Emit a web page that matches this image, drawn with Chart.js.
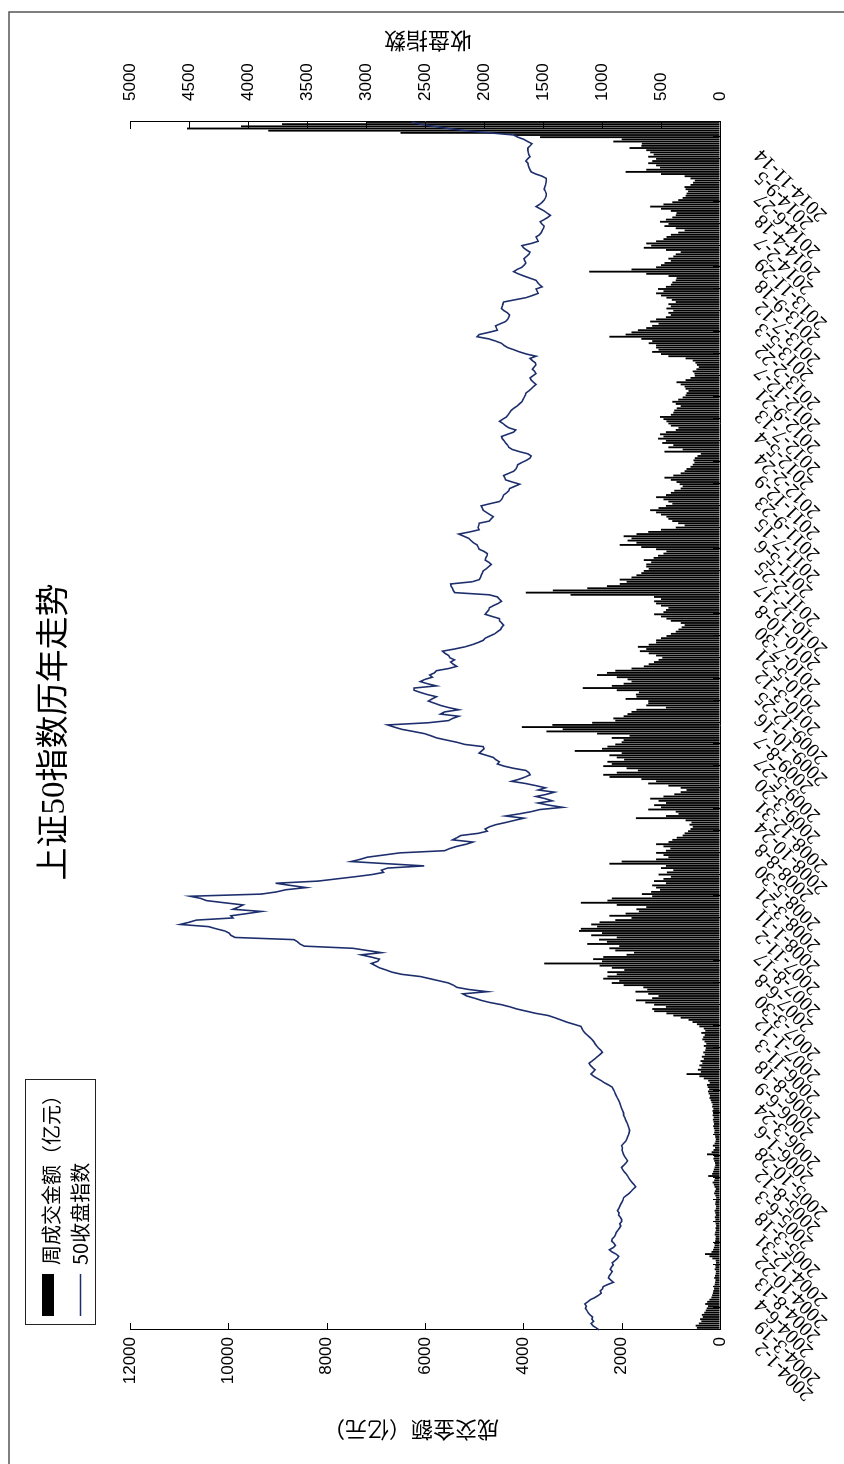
<!DOCTYPE html>
<html>
<head>
<meta charset="utf-8">
<script src="https://cdn.jsdelivr.net/npm/chart.js@4/dist/chart.umd.min.js"></script>
<style>
  html, body { margin: 0; padding: 0; background: #fff; overflow: hidden; }
  /* The figure is laid out landscape (1464x844) and turned a quarter turn
     counter-clockwise to fill the portrait page, as in the scanned original. */
  #stage {
    position: absolute; left: 0; top: 0; width: 1464px; height: 844px;
    transform-origin: 0 0; transform: translate(0, 1464px) rotate(-90deg);
  }
</style>
</head>
<body>
<div id="stage"><canvas id="chart" width="1464" height="844"></canvas></div>
<script>
(function () {
  "use strict";

  // Weekly close of the SSE 50 index, one array per calendar year.
  var close2004 = [1024, 1050, 1078, 1093, 1070, 1085, 1080, 1102, 1118, 1128,
    1140, 1132, 1145, 1120, 1098, 1059, 1030, 1007, 1015, 995,
    990, 950, 903, 925, 945, 938, 925, 914, 930, 920,
    905, 914, 890, 870, 859, 880, 915, 938, 905, 886,
    900, 918, 914, 895, 885, 879, 865, 852, 841, 850, 834];
  var close2005 = [834, 845, 860, 855, 869, 858, 850, 841, 830, 822,
    817, 795, 770, 752, 735, 714, 728, 745, 760, 772,
    783, 795, 812, 825, 834, 815, 798, 783, 795, 808,
    818, 824, 830, 826, 834, 818, 800, 790, 783, 775,
    770, 766, 772, 778, 783, 792, 800, 808, 817];
  var close2006 = [817, 825, 832, 840, 846, 852, 860, 870, 879, 888,
    895, 905, 914, 945, 980, 1007, 1040, 1070, 1093, 1075,
    1059, 1080, 1098, 1110, 1085, 1062, 1041, 1018, 997, 1010,
    1030, 1045, 1059, 1070, 1085, 1105, 1125, 1145, 1160, 1170,
    1179, 1240, 1300, 1350, 1400, 1455, 1560, 1640, 1720];
  var close2007 = [1780, 1852, 1950, 2024, 2080, 2145, 2180, 1972, 2128, 2231,
    2260, 2300, 2380, 2460, 2541, 2697, 2780, 2830, 2886, 2920,
    2955, 2900, 2886, 2960, 3041, 2869, 2990, 3110, 3524, 3560,
    3580, 3610, 4110, 4145, 4160, 4197, 4270, 4334, 4576, 4500,
    4438, 4128, 4145, 4010, 3886, 4128, 4080, 4041, 4200, 4352];
  var close2008 = [4400, 4490, 3886, 3760, 3679, 3507, 3640, 3766, 3403, 3250,
    3093, 2950, 2852, 2870, 2817, 2507, 2820, 3128, 3050, 2990,
    2850, 2714, 2334, 2290, 2231, 2150, 2093, 2266, 2230, 2197,
    2050, 1972, 1990, 1955, 1900, 1817, 1740, 1662, 1817, 1700,
    1600, 1524, 1334, 1450, 1541, 1421, 1480, 1559, 1470, 1403, 1541];
  var close2009 = [1480, 1560, 1650, 1766, 1700, 1650, 1610, 1620, 1645, 1750,
    1830, 1886, 1870, 1900, 1921, 1980, 2041, 2020, 2000, 2007,
    2162, 2230, 2317, 2400, 2450, 2507, 2600, 2700, 2760, 2817,
    2472, 2300, 2266, 2214, 2369, 2334, 2214, 2300, 2369, 2420,
    2472, 2440, 2403, 2480, 2540, 2593, 2593, 2403, 2480, 2541, 2500];
  var close2010 = [2438, 2460, 2420, 2403, 2300, 2231, 2260, 2283, 2250, 2290,
    2300, 2330, 2352, 2250, 2162, 2100, 2050, 2007, 1990, 1950,
    1910, 1886, 1860, 1850, 1834, 1850, 1869, 1869, 1930, 1990,
    1975, 1960, 1955, 1920, 1880, 1852, 1870, 1886, 1955, 2248,
    2260, 2266, 2280, 2283, 2100, 2041, 2030, 2024, 2015, 2007, 1980, 1960];
  var close2011 = [1938, 1960, 1990, 1985, 1975, 1972, 2000, 2041, 2050, 2059,
    2090, 2110, 2128, 2170, 2214, 2120, 2041, 2050, 2045, 2041,
    1955, 1940, 1921, 1950, 1980, 2007, 2015, 2024, 1950, 1869,
    1850, 1840, 1834, 1810, 1790, 1783, 1740, 1697, 1760, 1817,
    1825, 1834, 1790, 1748, 1730, 1720, 1714, 1680, 1640, 1610, 1600];
  var close2012 = [1628, 1700, 1760, 1790, 1800, 1817, 1830, 1845, 1852, 1800,
    1750, 1731, 1790, 1817, 1840, 1869, 1840, 1810, 1795, 1783,
    1770, 1748, 1720, 1700, 1679, 1670, 1660, 1650, 1645, 1620,
    1600, 1580, 1559, 1580, 1600, 1610, 1585, 1559, 1570, 1590,
    1575, 1560, 1565, 1590, 1610, 1559, 1640, 1700, 1748, 1800];
  var close2013 = [1830, 1852, 1903, 1960, 2059, 2041, 1960, 1886, 1895, 1903,
    1860, 1817, 1800, 1790, 1783, 1800, 1830, 1852, 1845, 1840,
    1834, 1740, 1645, 1590, 1541, 1550, 1559, 1507, 1530, 1545,
    1559, 1610, 1662, 1710, 1748, 1720, 1679, 1660, 1645, 1655,
    1662, 1640, 1620, 1610, 1640, 1665, 1679, 1600, 1541, 1550, 1559];
  var close2014 = [1530, 1515, 1507, 1495, 1490, 1510, 1524, 1490, 1460, 1438,
    1465, 1490, 1525, 1559, 1530, 1507, 1490, 1480, 1472, 1472,
    1480, 1490, 1485, 1478, 1475, 1472, 1472, 1507, 1560, 1600,
    1610, 1618, 1625, 1628, 1645, 1630, 1610, 1620, 1625, 1628,
    1628, 1610, 1593, 1630, 1662, 1714, 1748, 1950, 2162, 2300,
    2420, 2540, 2610];

  // Weekly turnover, 亿元, same weeks as above.
  var turnover2004 = [510, 470, 495, 430, 380, 405, 350, 370, 320, 290,
    270, 245, 300, 260, 215, 175, 160, 145, 135, 120,
    128, 108, 100, 92, 118, 102, 88, 84, 108, 92,
    98, 80, 88, 155, 215, 305, 175, 140, 125, 108,
    118, 98, 92, 88, 108, 98, 84, 92, 78, 88, 98];
  var turnover2005 = [92, 105, 88, 96, 110, 85, 80, 98, 90, 84,
    78, 95, 120, 105, 88, 110, 125, 150, 118, 104,
    240, 160, 140, 125, 110, 96, 102, 118, 135, 120,
    265, 170, 130, 102, 145, 110, 92, 86, 98, 105,
    118, 110, 125, 138, 120, 132, 145, 128, 150];
  var turnover2006 = [140, 155, 135, 160, 150, 175, 190, 215, 205, 230,
    245, 220, 250, 265, 210, 240, 330, 420, 680, 390,
    450, 380, 420, 360, 395, 330, 370, 310, 340, 300,
    290, 330, 280, 315, 360, 340, 310, 380, 300, 330,
    420, 470, 560, 640, 800, 950, 1090, 1340, 1380];
  var turnover2007 = [1100, 1340, 1520, 1710, 1380, 1250, 1460, 1720, 1480, 1560,
    1960, 2200, 2050, 2375, 2290, 2100, 2290, 1950, 2200, 2450,
    3575, 2400, 2580, 2375, 1900, 1750, 2130, 2250, 2050, 2700,
    2300, 2460, 2100, 2620, 2400, 2870, 2830, 2500, 2620, 2450,
    2130, 1800, 2250, 1920, 1650, 1700, 1500, 2100, 2830, 2290];
  var turnover2008 = [2200, 1380, 1590, 1400, 1220, 1300, 1380, 1100, 1340, 1150,
    1000, 1250, 1080, 950, 1200, 1100, 2250, 2000, 1300, 1050,
    1150, 1300, 1100, 1010, 1150, 1300, 1050, 970, 880, 760,
    720, 650, 600, 555, 620, 580, 700, 1710, 1100, 845,
    900, 1460, 1200, 1340, 1100, 1250, 1420, 1150, 930, 800, 680];
  var turnover2009 = [800, 1050, 1460, 1300, 1600, 2250, 2375, 2100, 1670, 1900,
    2375, 2200, 2290, 1950, 2100, 2250, 2000, 2955, 2400, 2290,
    2130, 2000, 1960, 2200, 1840, 2500, 3530, 3200, 4030, 3410,
    2600, 2130, 2170, 1960, 1880, 1800, 1700, 1100, 1500, 1460,
    1460, 1920, 1700, 1710, 1650, 2100, 2790, 2200, 1960, 1800, 1880];
  var turnover2010 = [2100, 2500, 2300, 2130, 1800, 1550, 1450, 1340, 1250, 1175,
    1300, 1450, 1630, 1500, 1670, 1450, 1300, 1300, 1200, 1090,
    1000, 900, 845, 780, 720, 800, 1000, 1090, 1200, 1340,
    1150, 1100, 1050, 1200, 1300, 1340, 1200, 1340, 3040, 3950,
    3400, 2700, 2300, 2040, 1900, 2040, 1800, 1700, 1600, 1550, 1450, 1500];
  var turnover2011 = [1500, 1400, 1550, 1350, 1260, 1150, 1090, 1300, 1600, 2040,
    1700, 1880, 1800, 1960, 1700, 1460, 1200, 900, 720, 850,
    970, 1050, 1090, 1200, 1300, 1420, 1250, 1100, 970, 1050,
    1150, 1300, 1100, 1000, 930, 800, 760, 820, 885, 1000,
    1130, 950, 800, 720, 680, 600, 555, 520, 540, 513, 460];
  var turnover2012 = [390, 1130, 760, 1050, 950, 1175, 1100, 1260, 1150, 1220,
    1100, 900, 845, 1000, 1050, 1090, 1150, 1220, 1000, 950,
    930, 880, 800, 900, 970, 850, 760, 700, 680, 640,
    700, 720, 800, 885, 700, 600, 513, 520, 555, 480,
    430, 470, 500, 555, 700, 1050, 1200, 1380, 1250, 1300];
  var turnover2013 = [1300, 1450, 1380, 1600, 2250, 1920, 1800, 1670, 1500, 1380,
    1250, 1420, 1300, 1100, 1000, 1050, 950, 1090, 1000, 1050,
    900, 980, 1090, 1200, 1300, 1150, 1260, 1100, 1000, 970,
    900, 885, 1050, 1500, 2660, 1800, 1300, 1200, 1130, 1000,
    1050, 950, 900, 800, 1100, 1550, 1400, 1500, 1300, 1150, 1090];
  var turnover2014 = [1000, 850, 720, 900, 1130, 1050, 1220, 1100, 970, 900,
    885, 1000, 1200, 1420, 1150, 970, 850, 760, 700, 680,
    650, 700, 720, 600, 550, 513, 600, 720, 1200, 1920,
    1500, 1220, 1300, 1460, 1380, 1300, 1460, 1350, 1420, 1500,
    1840, 1600, 1590, 2170, 2000, 3660, 4200, 6500, 9190, 10840,
    9740, 8910, 7200];

  // Every tenth week carries a date label.
  var tickEvery = 10;
  var tickLabels = ["2004-1-2", "2004-3-19", "2004-6-4", "2004-8-13", "2004-10-22",
    "2004-12-31", "2005-3-18", "2005-6-3", "2005-8-12", "2005-10-28",
    "2006-1-6", "2006-3-24", "2006-6-9", "2006-8-18", "2006-11-3",
    "2007-1-12", "2007-3-30", "2007-6-8", "2007-8-17", "2007-11-2",
    "2008-1-11", "2008-3-21", "2008-5-30", "2008-8-8", "2008-10-24",
    "2008-12-31", "2009-3-20", "2009-5-27", "2009-8-7", "2009-10-16",
    "2009-12-25", "2010-3-12", "2010-5-21", "2010-7-30", "2010-10-8",
    "2010-12-17", "2011-2-25", "2011-5-6", "2011-7-15", "2011-9-23",
    "2011-12-9", "2012-2-24", "2012-5-4", "2012-7-13", "2012-9-21",
    "2012-12-7", "2013-2-22", "2013-5-3", "2013-7-12", "2013-9-18",
    "2013-11-29", "2014-2-7", "2014-4-18", "2014-6-27", "2014-9-5",
    "2014-11-14"];

  var closes = [].concat(close2004, close2005, close2006, close2007, close2008,
    close2009, close2010, close2011, close2012, close2013, close2014);
  var turnover = [].concat(turnover2004, turnover2005, turnover2006, turnover2007,
    turnover2008, turnover2009, turnover2010, turnover2011, turnover2012,
    turnover2013, turnover2014);
  var weeks = closes.map(function (_v, i) { return i; });

  var INK = "#000";
  var LINE = "#1d2e6c";
  var SANS = "'Liberation Sans', Arial, sans-serif";
  var SERIF = "'Liberation Serif', 'Times New Roman', serif";
  var CJK = "'Noto Sans CJK SC', sans-serif";

  // Plot box in canvas pixels; the axes are sized so Chart.js lands on it.
  var box = { left: 134, right: 1342, top: 130, bottom: 720 };
  var TICK_IN = 7;

  // MATLAB-style furniture: inward tick marks, both axis titles read
  // bottom-to-top, a boxed legend in the top margin, and the page frame.
  var figurePlugin = {
    id: "figure",
    afterDraw: function (chart) {
      var ctx = chart.ctx;
      var area = chart.chartArea;
      var sx = chart.scales.x, sy = chart.scales.y, sy1 = chart.scales.y1;
      ctx.save();
      ctx.strokeStyle = INK;
      ctx.lineWidth = 1;
      ctx.beginPath();
      sy.ticks.forEach(function (t) {
        var py = Math.round(sy.getPixelForValue(t.value)) + 0.5;
        ctx.moveTo(area.left, py); ctx.lineTo(area.left + TICK_IN, py);
      });
      sy1.ticks.forEach(function (t) {
        var py = Math.round(sy1.getPixelForValue(t.value)) + 0.5;
        ctx.moveTo(area.right, py); ctx.lineTo(area.right - TICK_IN, py);
      });
      for (var i = 0; i < weeks.length; i += tickEvery) {
        var px = Math.round(sx.getPixelForValue(i)) + 0.5;
        ctx.moveTo(px, area.bottom); ctx.lineTo(px, area.bottom - TICK_IN);
      }
      ctx.stroke();

      var midY = (area.top + area.bottom) / 2;
      ctx.fillStyle = INK;
      ctx.font = "22px " + CJK;
      ctx.textAlign = "center";
      ctx.textBaseline = "middle";
      [[34, midY - 14, "成交金额（亿元）"], [1423, midY + 3, "收盘指数"]].forEach(function (t) {
        ctx.save();
        ctx.translate(t[0], t[1]);
        ctx.rotate(-Math.PI / 2);
        ctx.fillText(t[2], 0, 0);
        ctx.restore();
      });

      // legend
      ctx.strokeStyle = "#222";
      ctx.strokeRect(139.5, 25.5, 245, 70);
      ctx.fillStyle = INK;
      ctx.fillRect(148, 42, 42, 12);
      ctx.strokeStyle = LINE;
      ctx.lineWidth = 1.6;
      ctx.beginPath();
      ctx.moveTo(148, 80.5); ctx.lineTo(190, 80.5);
      ctx.stroke();
      ctx.fillStyle = INK;
      ctx.font = "20px " + CJK;
      ctx.textAlign = "left";
      ctx.fillText("周成交金额（亿元）", 199, 51);
      ctx.fillText("50收盘指数", 199, 80);

      // page frame
      ctx.strokeStyle = "#555";
      ctx.lineWidth = 1.5;
      ctx.beginPath();
      ctx.moveTo(0, 9); ctx.lineTo(1452, 9); ctx.lineTo(1452, 844);
      ctx.stroke();
      ctx.restore();
    },
  };

  function fixWidth(w) { return function (scale) { scale.width = w; }; }
  function plain(value) { return String(value); }

  new Chart(document.getElementById("chart"), {
    type: "bar",
    data: {
      labels: weeks,
      datasets: [
        {
          type: "line", label: "50收盘指数", data: closes, yAxisID: "y1",
          borderColor: LINE, borderWidth: 1.6, pointRadius: 0, tension: 0, order: 0,
        },
        {
          type: "bar", label: "周成交金额（亿元）", data: turnover, yAxisID: "y",
          backgroundColor: INK, borderWidth: 0, barPercentage: 0.85,
          categoryPercentage: 1, order: 1,
        },
      ],
    },
    options: {
      responsive: false,
      animation: false,
      layout: { padding: 0 },
      plugins: {
        legend: { display: false },
        tooltip: { enabled: false },
        title: {
          display: true, text: "上证50指数历年走势", color: INK,
          font: { family: "'Liberation Serif', 'Noto Sans CJK SC'", size: 33, weight: "normal" },
          padding: { top: 36, bottom: box.top - 36 - 33 * 1.2 },
        },
      },
      scales: {
        x: {
          type: "category", offset: false,
          grid: { drawOnChartArea: false, drawTicks: false },
          border: { color: INK },
          ticks: {
            autoSkip: false, minRotation: 45, maxRotation: 45, padding: 30,
            labelOffset: -15,
            color: INK, font: { family: SERIF, size: 20 },
            callback: function (_v, i) {
              return i % tickEvery === 0 ? tickLabels[i / tickEvery] : null;
            },
          },
          afterFit: function (scale) { scale.height = 844 - box.bottom; },
        },
        y: {
          position: "left", min: 0, max: 12000,
          grid: { drawOnChartArea: false, drawTicks: false },
          border: { color: INK },
          ticks: { stepSize: 2000, padding: 7, color: INK, font: { family: SANS, size: 17 }, callback: plain },
          afterFit: fixWidth(box.left),
        },
        y1: {
          position: "right", min: 0, max: 5000,
          grid: { drawOnChartArea: false, drawTicks: false },
          border: { color: INK },
          ticks: { stepSize: 500, padding: 21, color: INK, font: { family: SANS, size: 17 }, callback: plain },
          afterFit: fixWidth(1464 - box.right),
        },
      },
    },
    plugins: [figurePlugin],
  });
})();
</script>
</body>
</html>
